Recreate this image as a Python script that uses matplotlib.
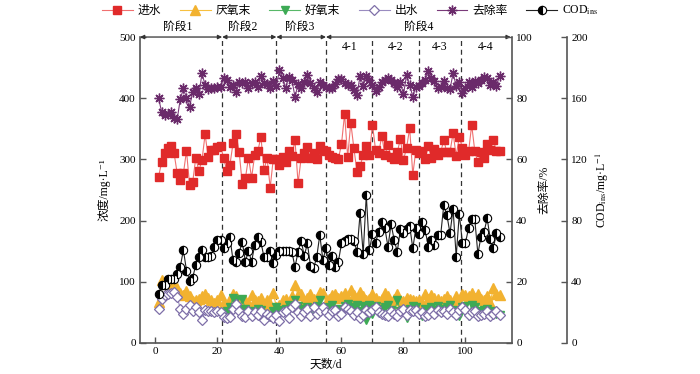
import matplotlib
matplotlib.use("Agg")
import matplotlib.pyplot as plt

# ------------------------
# Data
# ------------------------

days = [1, 2, 3, 4, 5, 6, 7, 8, 9, 10, 11, 12, 13, 14, 15, 16, 17, 18, 19, 20,
        21, 22, 23, 24, 25, 26, 27, 28, 29, 30, 31, 32, 33, 34, 35, 36, 37, 38, 39, 40,
        41, 42, 43, 44, 45, 46, 47, 48, 49, 50, 51, 52, 53, 54, 55, 56, 57, 58, 59, 60,
        61, 62, 63, 64, 65, 66, 67, 68, 69, 70, 71, 72, 73, 74, 75, 76, 77, 78, 79, 80,
        81, 82, 83, 84, 85, 86, 87, 88, 89, 90, 91, 92, 93, 94, 95, 96, 97, 98, 99, 100,
        101, 102, 103, 104, 105, 106, 107, 108, 109, 110, 111]

influent = [272, 296, 310, 318, 322, 310, 277, 266, 277, 314, 258, 263, 303, 281, 299, 341, 304, 315, 315, 321,
            322, 302, 281, 291, 326, 341, 312, 259, 269, 303, 270, 307, 313, 337, 283, 302, 254, 301, 301, 291,
            304, 296, 314, 306, 331, 261, 303, 311, 321, 302, 310, 301, 322, 315, 313, 308, 304, 302, 301, 325,
            374, 304, 360, 318, 280, 289, 307, 322, 307, 357, 315, 310, 339, 307, 324, 304, 301, 312, 333, 299,
            319, 351, 275, 315, 310, 313, 301, 322, 303, 317, 307, 312, 331, 312, 312, 343, 306, 337, 319, 307,
            313, 356, 314, 295, 312, 303, 325, 315, 332, 313, 314]

anaerobic_end = [67, 103, 100, 96, 98, 94, 90, 81, 78, 85, 76, 68, 70, 72, 76, 80, 74, 70, 65, 70,
                 78, 65, 55, 72, 80, 76, 60, 62, 70, 66, 78, 70, 68, 74, 62, 70, 64, 82, 58, 62,
                 70, 72, 66, 76, 94, 78, 80, 68, 74, 80, 72, 70, 84, 82, 66, 72, 78, 80, 74, 76,
                 82, 72, 86, 78, 74, 84, 76, 70, 72, 80, 74, 68, 72, 82, 76, 66, 72, 80, 70, 68,
                 74, 72, 70, 68, 70, 66, 80, 72, 78, 74, 72, 68, 72, 76, 70, 66, 76, 68, 80, 78,
                 76, 82, 74, 80, 72, 70, 76, 66, 90, 80, 78]

aerobic_days = days[21:]
aerobic_end = [48, 52, 58, 74, 70, 56, 72, 55, 48, 52, 50, 56, 54, 48, 46, 42, 52, 58, 52,
               54, 56, 62, 58, 70, 60, 55, 50, 58, 52, 56, 60, 70, 56, 54, 58, 62, 50, 56, 48,
               60, 64, 56, 58, 62, 52, 60, 38, 62, 48, 60, 56, 52, 58, 62, 54, 48, 70, 52, 54,
               40, 56, 60, 58, 48, 44, 56, 52, 58, 54, 60, 56, 52, 58, 62, 54, 50, 44, 58, 60,
               44, 62, 58, 52, 46, 54, 56, 50, 52, 48, 46]

effluent = [56, 72, 78, 80, 82, 84, 75, 56, 48, 56, 62, 52, 58, 50, 37, 54, 52, 52, 50, 52,
            50, 42, 40, 42, 56, 64, 52, 44, 42, 52, 44, 50, 46, 52, 38, 48, 44, 40, 46, 36,
            50, 52, 40, 58, 64, 50, 44, 50, 56, 44, 58, 48, 52, 58, 50, 46, 52, 54, 44, 48,
            58, 56, 52, 46, 50, 40, 46, 54, 50, 54, 58, 50, 48, 46, 44, 52, 48, 44, 52, 56,
            46, 54, 52, 54, 48, 50, 44, 46, 52, 48, 54, 50, 52, 48, 56, 50, 46, 54, 58, 54,
            46, 50, 52, 44, 46, 48, 52, 44, 48, 52, 46]

removal = [80.0, 75.4, 74.5, 74.7, 75.4, 73.6, 73.2, 79.7, 83.2, 80.0, 77.2, 82.1, 83.2, 81.3, 88.1, 84.3, 82.9, 83.2, 83.2, 83.6,
           83.8, 86.5, 85.9, 83.8, 84.3, 81.9, 85.2, 84.9, 85.4, 83.2, 84.9, 85.4, 83.8, 87.4, 84.9, 84.5, 83.2, 85.6, 84.0, 89.2,
           86.7, 83.2, 87.0, 85.9, 80.5, 84.5, 83.2, 85.4, 87.6, 84.9, 83.2, 82.1, 85.4, 84.3, 83.8, 83.2, 83.4, 84.5, 86.3, 86.3,
           84.9, 84.3, 84.3, 82.7, 81.0, 87.4, 84.1, 87.4, 85.9, 84.3, 82.4, 83.8, 85.4, 85.9, 86.5, 85.9, 84.9, 83.8, 85.2, 81.3,
           87.6, 84.3, 80.5, 83.8, 84.1, 84.9, 85.9, 88.9, 86.5, 85.6, 83.4, 83.8, 85.6, 83.4, 83.0, 88.1, 84.1, 85.4, 81.6, 83.2,
           85.4, 83.8, 85.6, 84.9, 85.9, 87.0, 86.7, 84.3, 85.4, 84.1, 87.4]

cod_ins = [31.8, 37.9, 37.9, 41.8, 41.8, 41.8, 44.9, 49.9, 60.8, 47.3, 40.7, 42.7, 51.0, 56.4, 60.8, 56.4, 56.4, 56.9, 62.9, 67.3,
           67.3, 61.9, 65.6, 69.1, 54.2, 53.1, 59.0, 66.2, 53.1, 60.3, 53.1, 64.1, 69.5, 66.2, 56.0, 56.4, 60.3, 52.1, 57.5, 60.3,
           60.3, 60.3, 60.3, 59.7, 49.5, 59.7, 66.9, 56.9, 65.2, 50.3, 48.8, 56.0, 70.6, 54.2, 61.9, 51.0, 56.9, 49.5, 53.1, 65.2,
           66.9, 67.8, 67.8, 66.9, 59.7, 84.8, 58.2, 96.7, 60.8, 71.2, 65.6, 72.7, 79.3, 75.0, 62.9, 77.8, 67.3, 59.7, 74.3, 71.7,
           74.3, 76.5, 61.9, 75.0, 71.2, 79.3, 73.9, 62.9, 67.3, 64.1, 70.6, 70.6, 90.2, 83.7, 71.7, 87.4, 56.4, 84.3, 65.6, 65.6,
           75.0, 80.8, 80.8, 58.2, 69.5, 72.7, 81.5, 67.8, 61.9, 72.1, 69.1]

stage_bounds = [21.5, 39, 55]
sub_bounds = [70, 85, 98.5]
stage_names = ["阶段1", "阶段2", "阶段3", "阶段4"]
stage_label_x = [7, 28, 46.5, 85]
sub_names = ["4-1", "4-2", "4-3", "4-4"]
sub_label_x = [62.5, 77.5, 91.5, 106.5]

# ------------------------
# Style
# ------------------------

FONTS = ["Liberation Serif", "Noto Sans CJK SC", "DejaVu Serif", "DejaVu Sans"]
plt.rcParams["font.family"] = FONTS
plt.rcParams["font.size"] = 8
plt.rcParams["mathtext.fontset"] = "stix"
plt.rcParams["axes.unicode_minus"] = False

SPINE = "#555555"
XMIN, XMAX = -5, 115


def style_axis(a, side):
    for name, sp in a.spines.items():
        sp.set_visible(name in side)
        sp.set_color(SPINE)
        sp.set_linewidth(1.2)
    a.tick_params(direction="in", length=4, width=1, color=SPINE, labelsize=8, pad=3)


fig = plt.figure(figsize=(7, 3.74), dpi=100)
ax = fig.add_axes([0.2, 0.083, 0.5314, 0.818])
ax2 = ax.twinx()
ax3 = ax.twinx()
ax3.spines["right"].set_position(("outward", 39.6))

style_axis(ax, ["left", "bottom"])
style_axis(ax2, ["right"])
style_axis(ax3, ["right"])

# ------------------------
# Series
# ------------------------

l_in, = ax.plot(days, influent, color="#F07070", lw=0.8, marker="s", ms=5.5,
                mfc="#E02A2A", mec="#E02A2A", label="进水", zorder=4)
l_an, = ax.plot(days, anaerobic_end, color="#F7C040", lw=0.8, marker="^", ms=6.5,
                mfc="#F2B230", mec="#F2B230", label="厌氧末", zorder=3)
l_ae, = ax.plot(aerobic_days, aerobic_end, color="#58B868", lw=0.8, marker="v", ms=6,
                mfc="#3DAA55", mec="#3DAA55", label="好氧末", zorder=3)
l_ef, = ax.plot(days, effluent, color="#9A8CC0", lw=0.8, marker="D", ms=5,
                mfc="white", mec="#7E6FA8", mew=0.9, label="出水", zorder=4)
l_rm, = ax2.plot(days, removal, color="#7A3A7A", lw=0.8, marker=(8, 2, 0), ms=7,
                 mec="#6A2A6A", mew=1.0, label="去除率", zorder=4)
l_cod, = ax3.plot(days, cod_ins, color="#222222", lw=0.8, marker="o", ms=6,
                  fillstyle="left", mfc="black", mfcalt="white", mec="black", mew=0.8,
                  label=r"COD$_{\rm ins}$", zorder=5)

# ------------------------
# Axes ranges / labels
# ------------------------

ax.set_xlim(XMIN, XMAX)
ax.set_ylim(0, 500)
ax.set_xticks([0, 20, 40, 60, 80, 100])
ax.set_yticks([0, 100, 200, 300, 400, 500])
ax2.set_ylim(0, 100)
ax2.set_yticks([0, 20, 40, 60, 80, 100])
ax3.set_ylim(0, 200)
ax3.set_yticks([0, 40, 80, 120, 160, 200])

ax.set_xlabel("天数/d", fontsize=8.5, labelpad=2)
ax.set_ylabel("浓度/mg·L⁻¹", fontsize=8.5, labelpad=6)
ax2.set_ylabel("去除率/%", fontsize=8.5, labelpad=4)
ax3.set_ylabel(r"COD$_{\rm ins}$/mg·L$^{-1}$", fontsize=8.5, labelpad=4)

# stage dividers
for xb in stage_bounds + sub_bounds:
    ax.axvline(xb, ymin=0, ymax=1, color="#333333", lw=0.9, ls=(0, (4, 3)), zorder=1)

# stage arrows along the top
edges = [XMIN] + stage_bounds + [XMAX - 0.4]
for i in range(len(stage_names)):
    ax.annotate("", xy=(edges[i + 1], 500), xytext=(edges[i], 500),
                arrowprops=dict(arrowstyle="<|-|>", color="#333333", lw=0.9,
                                mutation_scale=6, shrinkA=0, shrinkB=0),
                annotation_clip=False)
    ax.text(stage_label_x[i], 516, stage_names[i], ha="center", va="center", fontsize=8.5)

for name, xpos in zip(sub_names, sub_label_x):
    ax.text(xpos, 484, name, ha="center", va="center", fontsize=8.5)

fig.legend(handles=[l_in, l_an, l_ae, l_ef, l_rm, l_cod], loc="center",
           bbox_to_anchor=(0.5, 0.972), ncol=6, frameon=False, fontsize=8.5,
           handlelength=2.6, columnspacing=1.6, handletextpad=0.4,
           borderpad=0.1)

fig.savefig("out.png", dpi=100)
